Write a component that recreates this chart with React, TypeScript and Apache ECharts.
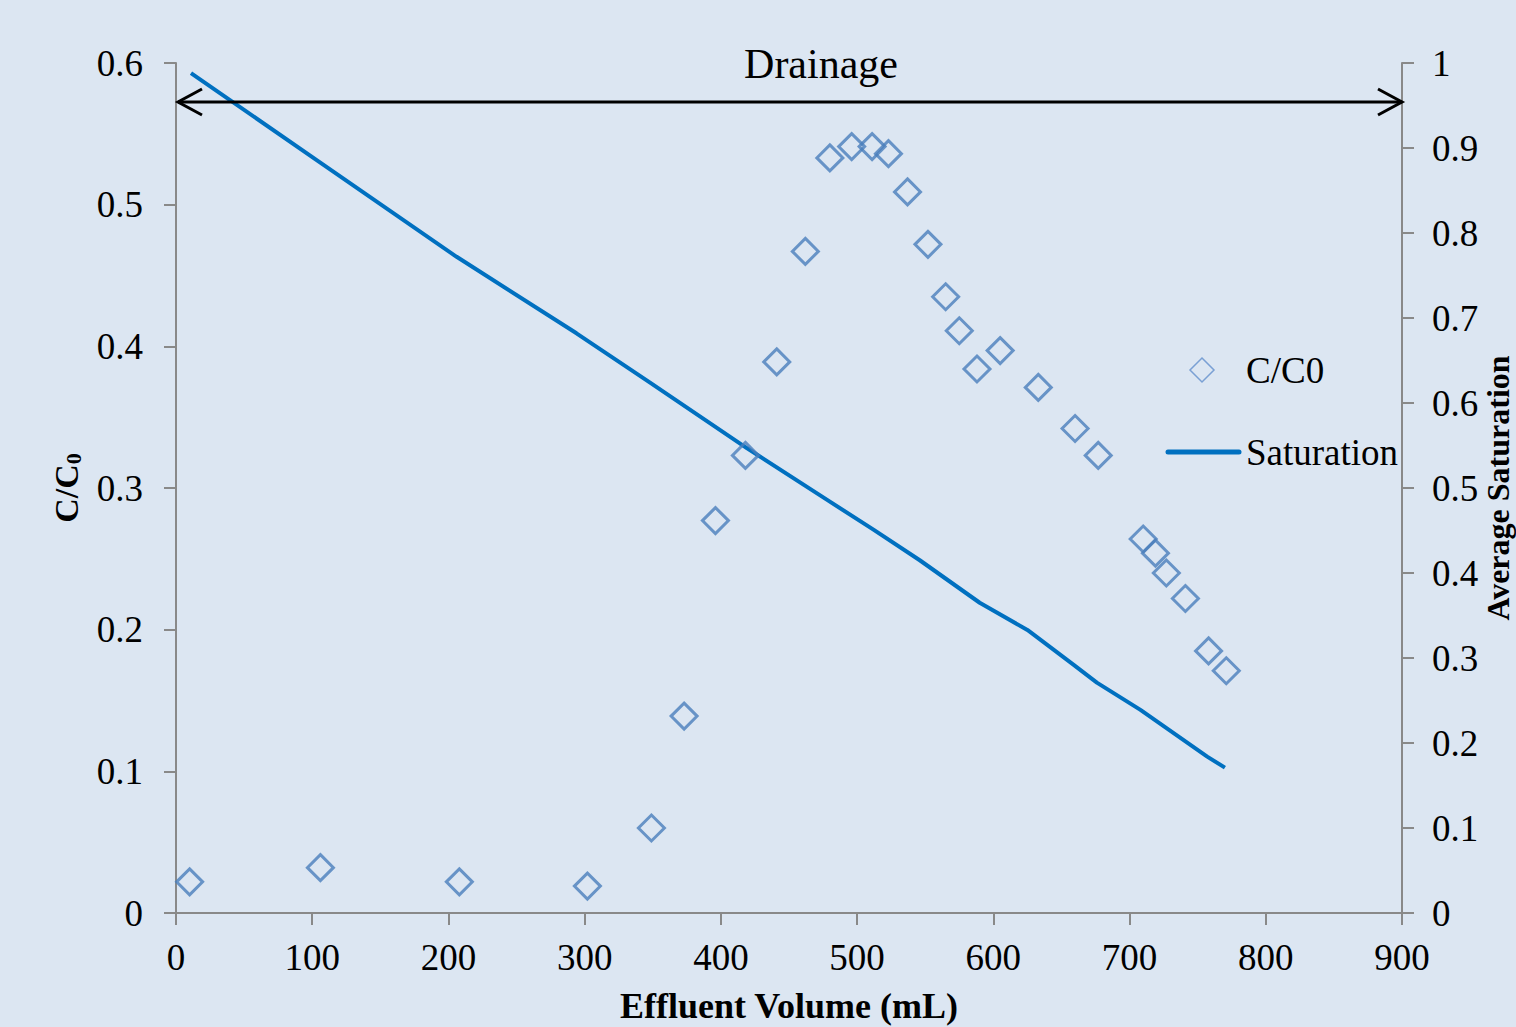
import React, { useEffect, useRef } from "react";
import * as echarts from "echarts";

// Effluent volume (mL) of each C/C0 sample
const sampleVolume = [10, 106, 208, 302, 349, 373, 396, 418, 441, 462, 480, 496, 511, 523, 537, 552, 565, 575, 588, 605, 633, 660, 677, 710, 719, 727, 741, 758, 771];
// Relative concentration C/C0 of each sample
const concentration = [0.022, 0.032, 0.022, 0.019, 0.060, 0.139, 0.277, 0.323, 0.389, 0.467, 0.533, 0.541, 0.541, 0.536, 0.509, 0.472, 0.435, 0.411, 0.384, 0.397, 0.371, 0.342, 0.323, 0.264, 0.254, 0.240, 0.222, 0.185, 0.171];

// Average saturation along the drainage run
const saturationVolume = [11, 103, 206, 294, 348, 419, 478, 512, 546, 590, 625, 659, 676, 708, 757, 770];
const saturation = [0.988, 0.886, 0.772, 0.682, 0.624, 0.547, 0.486, 0.451, 0.415, 0.365, 0.333, 0.292, 0.271, 0.239, 0.184, 0.171];

const xTicks = { min: 0, max: 900, interval: 100 };
const leftTicks = { min: 0, max: 0.6, interval: 0.1 };
const rightTicks = { min: 0, max: 1, interval: 0.1 };

const FONT = "'Liberation Serif', 'Times New Roman', serif";
const AXIS_GRAY = "#898989";
const GRID = { left: 176, right: 114, top: 63, bottom: 114 };
const W = 1516;
const H = 1027;

export default function App() {
  const ref = useRef<HTMLDivElement>(null);

  useEffect(() => {
    if (!ref.current) return;
    const chart = echarts.init(ref.current, null, { renderer: "svg" });

    const plotRight = W - GRID.right;
    const arrowY = 102;

    const axisCommon = {
      axisLine: { show: true, lineStyle: { color: AXIS_GRAY, width: 2 } },
      axisTick: { show: true, inside: false, length: 12, lineStyle: { color: AXIS_GRAY, width: 2 } },
      splitLine: { show: false },
    };

    chart.setOption({
      animation: false,
      backgroundColor: "#dce6f2",
      textStyle: { fontFamily: FONT },
      grid: { ...GRID, containLabel: false, outerBoundsMode: "none" },
      xAxis: {
        type: "value",
        ...xTicks,
        ...axisCommon,
        axisLabel: { color: "#000", fontSize: 37, fontFamily: FONT, margin: 26 },
        name: "Effluent Volume (mL)",
        nameLocation: "middle",
        nameGap: 75,
        nameTextStyle: { color: "#000", fontSize: 36, fontWeight: "bold", fontFamily: FONT },
      },
      yAxis: [
        {
          type: "value",
          position: "left",
          ...leftTicks,
          ...axisCommon,
          axisLabel: { color: "#000", fontSize: 37, fontFamily: FONT, margin: 33 },
          name: "{a|C/C}{s|0}",
          nameLocation: "middle",
          nameRotate: 90,
          nameGap: 92,
          nameTextStyle: {
            rich: {
              a: { fontSize: 34, fontWeight: "bold", color: "#000", fontFamily: FONT },
              s: { fontSize: 22, fontWeight: "bold", color: "#000", fontFamily: FONT, padding: [14, 0, 0, 0] },
            },
          },
        },
        {
          type: "value",
          position: "right",
          ...rightTicks,
          ...axisCommon,
          axisLabel: { color: "#000", fontSize: 37, fontFamily: FONT, margin: 30 },
          name: "Average Saturation",
          nameLocation: "middle",
          nameRotate: 90,
          nameGap: 80,
          nameMoveOverlap: false,
          nameTextStyle: { color: "#000", fontSize: 32, fontWeight: "bold", fontFamily: FONT },
        },
      ],
      series: [
        {
          name: "C/C0",
          type: "scatter",
          yAxisIndex: 0,
          symbol: "diamond",
          symbolSize: 26,
          itemStyle: { color: "rgba(0,0,0,0)", borderColor: "#4a7ebb", borderWidth: 3 },
          data: sampleVolume.map((v, i) => [v, concentration[i]]),
          z: 3,
        },
        {
          name: "Saturation",
          type: "line",
          yAxisIndex: 1,
          symbol: "none",
          lineStyle: { color: "#0070c0", width: 4 },
          data: saturationVolume.map((v, i) => [v, saturation[i]]),
          z: 2,
        },
      ],
      graphic: [
        // Drainage span arrow
        {
          type: "line",
          shape: { x1: GRID.left + 2, y1: arrowY, x2: plotRight, y2: arrowY },
          style: { stroke: "#000", lineWidth: 3 },
          z: 10,
        },
        {
          type: "polyline",
          shape: { points: [[GRID.left + 26, arrowY - 13], [GRID.left + 2, arrowY], [GRID.left + 26, arrowY + 13]] },
          style: { stroke: "#000", lineWidth: 3, fill: "none" },
          z: 10,
        },
        {
          type: "polyline",
          shape: { points: [[plotRight - 24, arrowY - 13], [plotRight, arrowY], [plotRight - 24, arrowY + 13]] },
          style: { stroke: "#000", lineWidth: 3, fill: "none" },
          z: 10,
        },
        {
          type: "text",
          x: 821,
          y: 64,
          style: { text: "Drainage", font: `42px ${FONT}`, fill: "#000", align: "center", verticalAlign: "middle" },
          z: 10,
        },
        // Legend
        {
          type: "polygon",
          shape: { points: [[1202, 358], [1214, 370], [1202, 382], [1190, 370]] },
          style: { stroke: "#7aa0d4", lineWidth: 1.5, fill: "none" },
          z: 10,
        },
        {
          type: "text",
          x: 1246,
          y: 370,
          style: { text: "C/C0", font: `37px ${FONT}`, fill: "#000", align: "left", verticalAlign: "middle" },
          z: 10,
        },
        {
          type: "line",
          shape: { x1: 1168, y1: 452, x2: 1239, y2: 452 },
          style: { stroke: "#0070c0", lineWidth: 5, lineCap: "round" },
          z: 10,
        },
        {
          type: "text",
          x: 1246,
          y: 452,
          style: { text: "Saturation", font: `37px ${FONT}`, fill: "#000", align: "left", verticalAlign: "middle" },
          z: 10,
        },
      ],
    });

    return () => chart.dispose();
  }, []);

  return (
    <div
      ref={ref}
      style={{ position: "fixed", left: 0, top: 0, width: W, height: H }}
    />
  );
}
